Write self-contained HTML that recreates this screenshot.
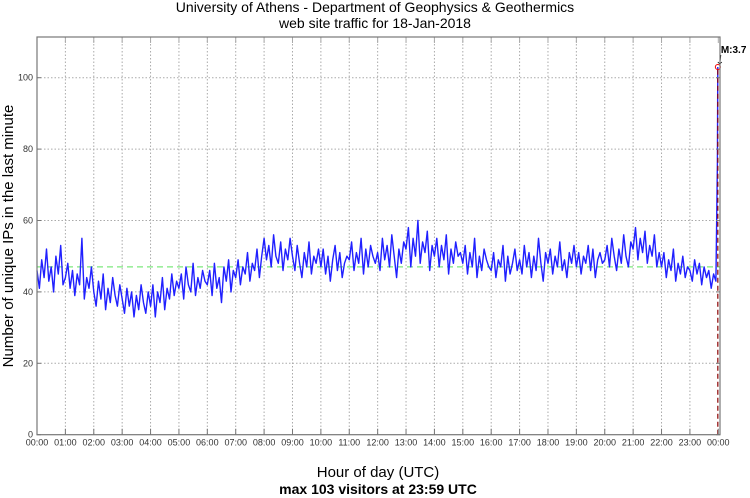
<!DOCTYPE html>
<html><head><meta charset="utf-8"><style>
body{margin:0;background:#fff;}
svg{display:block;font-family:"Liberation Sans",sans-serif;}
</style></head><body>
<svg id="chart" width="750" height="498">
<text x="375" y="12" text-anchor="middle" font-size="14">University of Athens - Department of Geophysics &amp; Geothermics</text>
<text x="375" y="28" text-anchor="middle" font-size="14">web site traffic for 18-Jan-2018</text>
<text x="0" y="0" transform="translate(13,236) rotate(-90)" text-anchor="middle" font-size="15">Number of unique IPs in the last minute</text>
<text x="378" y="477" text-anchor="middle" font-size="15">Hour of day (UTC)</text>
<text x="378" y="494" text-anchor="middle" font-size="14" font-weight="bold">max 103 visitors at 23:59 UTC</text>
<g id="grid"></g><g id="series"></g><g id="axes"></g>
</svg>
<script>
const yTicks=[0,20,40,60,80,100];
const xTickLabels=["00:00","01:00","02:00","03:00","04:00","05:00","06:00","07:00","08:00","09:00","10:00","11:00","12:00","13:00","14:00","15:00","16:00","17:00","18:00","19:00","20:00","21:00","22:00","23:00","00:00"];
const visitors5min=[
46,41,49,44,52,43,47,40,50,45,53,42,
44,48,41,46,39,45,42,55,38,44,41,47,
40,36,43,38,45,35,41,37,44,39,36,42,
38,34,41,36,40,33,39,35,42,37,34,40,
36,42,33,40,37,44,35,41,38,45,39,43,
41,45,38,47,42,40,48,39,44,41,46,43,
42,46,39,48,41,44,37,47,43,49,40,46,
44,49,42,47,45,51,43,48,46,52,44,50,
55,49,53,47,56,50,48,54,46,52,49,55,
50,46,53,48,44,51,47,54,45,50,48,52,
47,52,45,50,43,49,53,46,51,44,48,50,
49,54,46,51,48,55,45,52,47,53,50,48,
51,46,55,49,53,47,56,50,44,52,48,54,
52,58,47,55,50,60,48,54,51,57,46,53,
50,55,47,53,49,56,45,52,48,54,50,51,
48,53,45,51,47,55,44,50,46,52,49,47,
46,51,44,49,47,53,43,50,45,48,52,46,
49,45,53,47,51,44,50,46,55,48,43,51,
48,52,45,50,47,54,46,49,44,51,48,53,
47,51,45,50,48,53,46,52,44,49,51,48,
49,53,47,55,50,46,52,48,56,50,47,54,
52,58,49,55,51,57,48,53,50,56,47,51,
47,51,44,49,46,52,43,48,45,50,44,47,
46,43,49,45,48,42,47,44,46,41,45,43];
const lastMinutes=[1438,1439];
const lastValues=[76,103];
const meanValue=47;
const maxValue=103, maxMinute=1439;

const L=37,R=720,T=37,B=434.7,X1=718.3,YMAX=111.4;
const xs=m=>L+(X1-L)*m/1440;
const ys=v=>B-(B-T)*v/YMAX;
const NS="http://www.w3.org/2000/svg";
function mk(tag,attrs,parent){const e=document.createElementNS(NS,tag);for(const k in attrs)e.setAttribute(k,attrs[k]);parent.appendChild(e);return e;}
const grid=document.getElementById('grid'),ser=document.getElementById('series'),ax=document.getElementById('axes');
yTicks.forEach(v=>{
 if(v>0){const g=mk('line',{x1:L,x2:R,y1:ys(v),y2:ys(v),stroke:'#aaa','stroke-dasharray':'1.5,2','stroke-width':1},grid);
 
 }
 const t=mk('line',{x1:L,x2:L+4,y1:ys(v),y2:ys(v),stroke:'#777'},ax);
 
 
 const t2=mk('line',{x1:R-4,x2:R,y1:ys(v),y2:ys(v),stroke:'#777'},ax);
 
 
 const lb=mk('text',{x:L-4,y:ys(v)+3,'text-anchor':'end','font-size':9,fill:'#333'},ax);lb.textContent=v;
 
 
});
xTickLabels.forEach((s,i)=>{
 const x=xs(i*60);
 if(i>0&&i<24){const g=mk('line',{x1:x,x2:x,y1:T,y2:B,stroke:'#aaa','stroke-dasharray':'1.5,2'},grid);
 
 }
 const t=mk('line',{x1:x,x2:x,y1:B-6,y2:B,stroke:'#777'},ax);
 
 
 const t2=mk('line',{x1:x,x2:x,y1:T,y2:T+6,stroke:'#aaa'},ax);
 
 
 const lb=mk('text',{x:x,y:B+11,'text-anchor':'middle','font-size':9,fill:'#333'},ax);lb.textContent=s;
 
 
});
const frame=mk('rect',{x:L,y:T,width:R-L,height:B-T,fill:'none',stroke:'#777','stroke-width':1.2},ax);


const mean=mk('line',{x1:L,x2:R,y1:ys(meanValue),y2:ys(meanValue),stroke:'#7de87d','stroke-dasharray':'6,4','stroke-width':1.2},ser);


let pts=visitors5min.map((v,i)=>xs(i*5).toFixed(1)+','+ys(v).toFixed(1));
lastMinutes.forEach((m,i)=>pts.push(xs(m).toFixed(1)+','+ys(lastValues[i]).toFixed(1)));
const line=mk('polyline',{points:pts.join(' '),fill:'none',stroke:'#2020ff','stroke-width':1.4,'stroke-linejoin':'round'},ser);


const vl=mk('line',{x1:xs(maxMinute),x2:xs(maxMinute),y1:B,y2:ys(maxValue),stroke:'#8b0000','stroke-dasharray':'5,3','stroke-width':1.2},ser);


const c=mk('circle',{cx:xs(maxMinute),cy:ys(maxValue),r:2.5,fill:'none',stroke:'#e00','stroke-width':1},ser);


const arr=mk('path',{d:`M${xs(maxMinute)+3},${ys(maxValue)-12} L${xs(maxMinute)+2},${ys(maxValue)-3} M${xs(maxMinute)},${ys(maxValue)-5} L${xs(maxMinute)+2},${ys(maxValue)-3} L${xs(maxMinute)+4},${ys(maxValue)-5}`,stroke:'#000',fill:'none','stroke-width':0.8},ser);


const ml=mk('text',{x:xs(maxMinute)+3,y:ys(maxValue)-14,'font-size':10,'font-weight':'bold'},ser);ml.textContent='M:3.7';


</script>
</body></html>
